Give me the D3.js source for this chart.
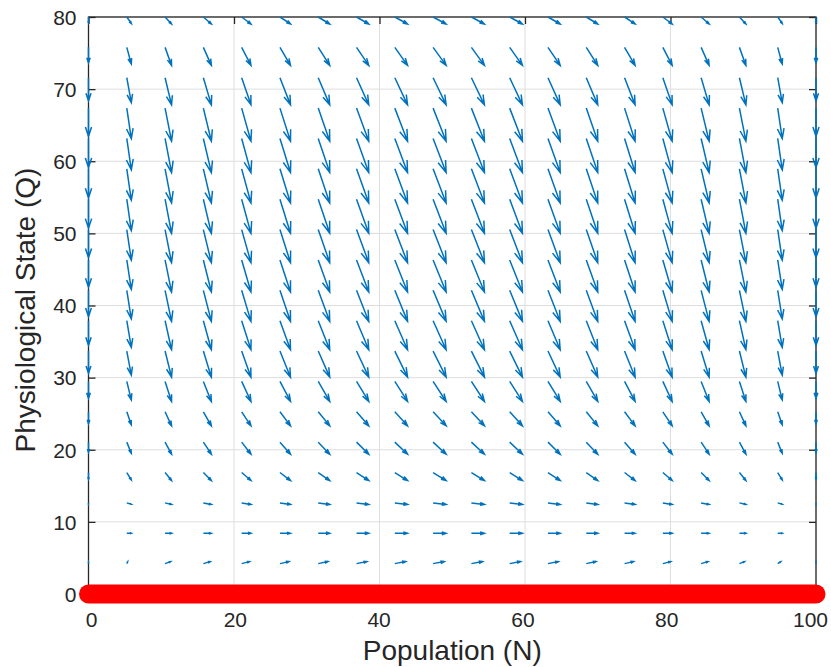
<!DOCTYPE html>
<html><head><meta charset="utf-8">
<script src="https://cdn.jsdelivr.net/npm/d3@7"></script>
<style>
body{margin:0;background:#fff}
text{font-family:"Liberation Sans",Arial,Helvetica,sans-serif;fill:#262626}
</style>
</head><body>
<svg id="chart" width="831" height="667"></svg>
<script>
// Grid of the vector field
const popN = [0, 5.263, 10.526, 15.789, 21.053, 26.316, 31.579, 36.842, 42.105, 47.368,
              52.632, 57.895, 63.158, 68.421, 73.684, 78.947, 84.211, 89.474, 94.737, 100];
const stateQ = [0, 4.211, 8.421, 12.632, 16.842, 21.053, 25.263, 29.474, 33.684, 37.895,
                42.105, 46.316, 50.526, 54.737, 58.947, 63.158, 67.368, 71.579, 75.789, 80];

// Arrow components (displayed dN), one row per Q value
const uRows = [
  [0,0.62,0.89,1.10,1.28,1.45,1.58,1.68,1.75,1.79,1.79,1.75,1.68,1.58,1.45,1.28,1.10,0.89,0.62,0],
  [0,0.12,0.76,0.94,1.09,1.23,1.34,1.43,1.49,1.52,1.52,1.49,1.43,1.34,1.23,1.09,0.94,0.69,0.40,0],
  [0,0.62,0.89,1.10,1.28,1.45,1.58,1.68,1.75,1.79,1.79,1.75,1.68,1.58,1.45,1.28,1.10,0.89,0.62,0],
  [0,0.62,0.89,1.10,1.28,1.45,1.58,1.68,1.75,1.79,1.79,1.75,1.68,1.58,1.45,1.28,1.10,0.89,0.62,0],
  [0,0.62,0.89,1.10,1.28,1.45,1.58,1.68,1.75,1.79,1.79,1.75,1.68,1.58,1.45,1.28,1.10,0.89,0.62,0],
  [0,0.62,0.89,1.10,1.28,1.45,1.58,1.68,1.75,1.79,1.79,1.75,1.68,1.58,1.45,1.28,1.10,0.89,0.62,0],
  [0,0.62,0.89,1.10,1.28,1.45,1.58,1.68,1.75,1.79,1.79,1.75,1.68,1.58,1.45,1.28,1.10,0.89,0.62,0],
  [0,0.62,0.89,1.10,1.28,1.45,1.58,1.68,1.75,1.79,1.79,1.75,1.68,1.58,1.45,1.28,1.10,0.89,0.62,0],
  [0,0.62,0.89,1.10,1.28,1.45,1.58,1.68,1.75,1.79,1.79,1.75,1.68,1.58,1.45,1.28,1.10,0.89,0.62,0],
  [0,0.62,0.89,1.10,1.28,1.45,1.58,1.68,1.75,1.79,1.79,1.75,1.68,1.58,1.45,1.28,1.10,0.89,0.62,0],
  [0,0.62,0.89,1.10,1.28,1.45,1.58,1.68,1.75,1.79,1.79,1.75,1.68,1.58,1.45,1.28,1.10,0.89,0.62,0],
  [0,0.62,0.89,1.10,1.28,1.45,1.58,1.68,1.75,1.79,1.79,1.75,1.68,1.58,1.45,1.28,1.10,0.89,0.62,0],
  [0,0.62,0.89,1.10,1.28,1.45,1.58,1.68,1.75,1.79,1.79,1.75,1.68,1.58,1.45,1.28,1.10,0.89,0.62,0],
  [0,0.62,0.89,1.10,1.28,1.45,1.58,1.68,1.75,1.79,1.79,1.75,1.68,1.58,1.45,1.28,1.10,0.89,0.62,0],
  [0,0.62,0.89,1.10,1.28,1.45,1.58,1.68,1.75,1.79,1.79,1.75,1.68,1.58,1.45,1.28,1.10,0.89,0.62,0],
  [0,0.62,0.89,1.10,1.28,1.45,1.58,1.68,1.75,1.79,1.79,1.75,1.68,1.58,1.45,1.28,1.10,0.89,0.62,0],
  [0,0.62,0.89,1.10,1.28,1.45,1.58,1.68,1.75,1.79,1.79,1.75,1.68,1.58,1.45,1.28,1.10,0.89,0.62,0],
  [0,0.62,0.89,1.10,1.28,1.45,1.58,1.68,1.75,1.79,1.79,1.75,1.68,1.58,1.45,1.28,1.10,0.89,0.62,0],
  [0,0.62,0.89,1.10,1.28,1.45,1.58,1.68,1.75,1.79,1.79,1.75,1.68,1.58,1.45,1.28,1.10,0.89,0.62,0],
  [0,0.62,0.89,1.10,1.28,1.45,1.58,1.68,1.75,1.79,1.79,1.75,1.68,1.58,1.45,1.28,1.10,0.89,0.62,0]
];

// Arrow components (displayed dQ), one row per Q value
const vRows = [
  [0,0,0,0,0,0,0,0,0,0,0,0,0,0,0,0,0,0,0,0],
  [0.24,0.26,0.28,0.28,0.28,0.28,0.28,0.28,0.28,0.28,0.28,0.28,0.28,0.28,0.28,0.28,0.28,0.28,0.26,0.24],
  [0,0,0,0,0,0,0,0,0,0,0,0,0,0,0,0,0,0,0,0],
  [-0.18,-0.19,-0.21,-0.21,-0.21,-0.21,-0.21,-0.21,-0.21,-0.21,-0.21,-0.21,-0.21,-0.21,-0.21,-0.21,-0.21,-0.21,-0.19,-0.18],
  [-0.94,-1.02,-1.11,-1.11,-1.11,-1.11,-1.11,-1.11,-1.11,-1.11,-1.11,-1.11,-1.11,-1.11,-1.11,-1.11,-1.11,-1.11,-1.02,-0.94],
  [-1.42,-1.54,-1.67,-1.67,-1.67,-1.67,-1.67,-1.67,-1.67,-1.67,-1.67,-1.67,-1.67,-1.67,-1.67,-1.67,-1.67,-1.67,-1.54,-1.42],
  [-1.66,-1.79,-1.95,-1.95,-1.95,-1.95,-1.95,-1.95,-1.95,-1.95,-1.95,-1.95,-1.95,-1.95,-1.95,-1.95,-1.95,-1.95,-1.79,-1.66],
  [-2.36,-2.56,-2.78,-2.78,-2.78,-2.78,-2.78,-2.78,-2.78,-2.78,-2.78,-2.78,-2.78,-2.78,-2.78,-2.78,-2.78,-2.78,-2.56,-2.36],
  [-3.08,-3.33,-3.62,-3.62,-3.62,-3.62,-3.62,-3.62,-3.62,-3.62,-3.62,-3.62,-3.62,-3.62,-3.62,-3.62,-3.62,-3.62,-3.33,-3.08],
  [-3.43,-3.71,-4.03,-4.03,-4.03,-4.03,-4.03,-4.03,-4.03,-4.03,-4.03,-4.03,-4.03,-4.03,-4.03,-4.03,-4.03,-4.03,-3.71,-3.43],
  [-3.66,-3.97,-4.31,-4.31,-4.31,-4.31,-4.31,-4.31,-4.31,-4.31,-4.31,-4.31,-4.31,-4.31,-4.31,-4.31,-4.31,-4.31,-3.97,-3.66],
  [-3.78,-4.09,-4.45,-4.45,-4.45,-4.45,-4.45,-4.45,-4.45,-4.45,-4.45,-4.45,-4.45,-4.45,-4.45,-4.45,-4.45,-4.45,-4.09,-3.78],
  [-3.90,-4.22,-4.59,-4.59,-4.59,-4.59,-4.59,-4.59,-4.59,-4.59,-4.59,-4.59,-4.59,-4.59,-4.59,-4.59,-4.59,-4.59,-4.22,-3.90],
  [-4.02,-4.35,-4.73,-4.73,-4.73,-4.73,-4.73,-4.73,-4.73,-4.73,-4.73,-4.73,-4.73,-4.73,-4.73,-4.73,-4.73,-4.73,-4.35,-4.02],
  [-4.02,-4.35,-4.73,-4.73,-4.73,-4.73,-4.73,-4.73,-4.73,-4.73,-4.73,-4.73,-4.73,-4.73,-4.73,-4.73,-4.73,-4.73,-4.35,-4.02],
  [-4.02,-4.35,-4.73,-4.73,-4.73,-4.73,-4.73,-4.73,-4.73,-4.73,-4.73,-4.73,-4.73,-4.73,-4.73,-4.73,-4.73,-4.73,-4.35,-4.02],
  [-3.90,-4.22,-4.59,-4.59,-4.59,-4.59,-4.59,-4.59,-4.59,-4.59,-4.59,-4.59,-4.59,-4.59,-4.59,-4.59,-4.59,-4.59,-4.22,-3.90],
  [-3.20,-3.46,-3.76,-3.76,-3.76,-3.76,-3.76,-3.76,-3.76,-3.76,-3.76,-3.76,-3.76,-3.76,-3.76,-3.76,-3.76,-3.76,-3.46,-3.20],
  [-2.13,-2.30,-2.50,-2.50,-2.50,-2.50,-2.50,-2.50,-2.50,-2.50,-2.50,-2.50,-2.50,-2.50,-2.50,-2.50,-2.50,-2.50,-2.30,-2.13],
  [-0.82,-0.89,-0.97,-0.97,-0.97,-0.97,-0.97,-0.97,-0.97,-0.97,-0.97,-0.97,-0.97,-0.97,-0.97,-0.97,-0.97,-0.97,-0.89,-0.82]
];

// Equilibrium line (Q = 0)
const eqN = [0, 100];
const eqQ = [0, 0];

const xTicks = [0, 20, 40, 60, 80, 100];
const yTicks = [0, 10, 20, 30, 40, 50, 60, 70, 80];

const svg = d3.select("#chart");
const x = d3.scaleLinear().domain([0, 100]).range([88.5, 816]);
const y = d3.scaleLinear().domain([0, 80]).range([594, 17]);
// tick labels sit on a slightly narrower span in the reference
const xLab = d3.scaleLinear().domain([0, 100]).range([91, 810]);

// grid
const grid = svg.append("g");
grid.selectAll(".gx").data(xTicks).join("line")
  .attr("x1", d => x(d)).attr("x2", d => x(d)).attr("y1", y(0)).attr("y2", y(80))
  .attr("stroke", "#dedede").attr("stroke-width", 1);
grid.selectAll(".gy").data(yTicks).join("line")
  .attr("x1", x(0)).attr("x2", x(100)).attr("y1", d => y(d)).attr("y2", d => y(d))
  .attr("stroke", "#dedede").attr("stroke-width", 1);

// box
svg.append("rect").attr("x", x(0)).attr("y", y(80))
  .attr("width", x(100) - x(0)).attr("height", y(0) - y(80))
  .attr("fill", "none").attr("stroke", "#262626").attr("stroke-width", 1.3);

// axes (ticks inside)
const axB = d3.axisBottom(x).tickValues(xTicks).tickSize(-7).tickPadding(18);
const axT = d3.axisTop(x).tickValues(xTicks).tickSize(-7).tickFormat("");
const axL = d3.axisLeft(y).tickValues(yTicks).tickSize(-7).tickPadding(18);
const axR = d3.axisRight(y).tickValues(yTicks).tickSize(-7).tickFormat("");
function styleAxis(g) {
  g.select(".domain").remove();
  g.selectAll(".tick line").attr("stroke", "#262626").attr("stroke-width", 1.3);
  g.selectAll(".tick text").attr("font-size", 21).attr("fill", "#262626")
    .style("font-family", '"Liberation Sans",Arial,sans-serif');
}
const gB = svg.append("g").attr("transform", `translate(0,${y(0)})`).call(axB).call(styleAxis);
gB.selectAll(".tick text").attr("x", d => xLab(d) - x(d));
svg.append("g").attr("transform", `translate(0,${y(80)})`).call(axT).call(styleAxis);
const gL = svg.append("g").attr("transform", `translate(${x(0)},0)`).call(axL).call(styleAxis);
gL.selectAll(".tick text").attr("x", -12).attr("dy", "0.35em");
svg.append("g").attr("transform", `translate(${x(100)},0)`).call(axR).call(styleAxis);

// arrows
const arrows = [];
stateQ.forEach((q, j) => popN.forEach((n, i) => arrows.push({n, q, u: uRows[j][i], v: vRows[j][i]})));
const alpha = 0.33, beta = 0.33;
function arrowPath(d) {
  const x0 = x(d.n), y0 = y(d.q), x1 = x(d.n + d.u), y1 = y(d.q + d.v);
  const dx = x1 - x0, dy = y1 - y0;
  const p = d3.path();
  p.moveTo(x0, y0); p.lineTo(x1, y1);
  p.moveTo(x1 - alpha * (dx + beta * dy), y1 - alpha * (dy - beta * dx));
  p.lineTo(x1, y1);
  p.lineTo(x1 - alpha * (dx - beta * dy), y1 - alpha * (dy + beta * dx));
  return p.toString();
}
svg.append("g").selectAll("path").data(arrows).join("path")
  .attr("d", arrowPath)
  .attr("fill", "none").attr("stroke", "#0072BD").attr("stroke-width", 1.5)
  .attr("stroke-linejoin", "miter");

// equilibrium line
svg.append("path")
  .datum(eqN.map((n, k) => [n, eqQ[k]]))
  .attr("d", d3.line().x(d => x(d[0])).y(d => y(d[1])))
  .attr("stroke", "#ff0000").attr("stroke-width", 19).attr("stroke-linecap", "round")
  .attr("fill", "none");

// axis labels
svg.append("text").attr("x", (x(0) + x(100)) / 2).attr("y", 660)
  .attr("text-anchor", "middle").attr("font-size", 28).text("Population (N)");
svg.append("text").attr("transform", "translate(35,310) rotate(-90)")
  .attr("text-anchor", "middle").attr("font-size", 28).text("Physiological State (Q)");
</script>
</body></html>
